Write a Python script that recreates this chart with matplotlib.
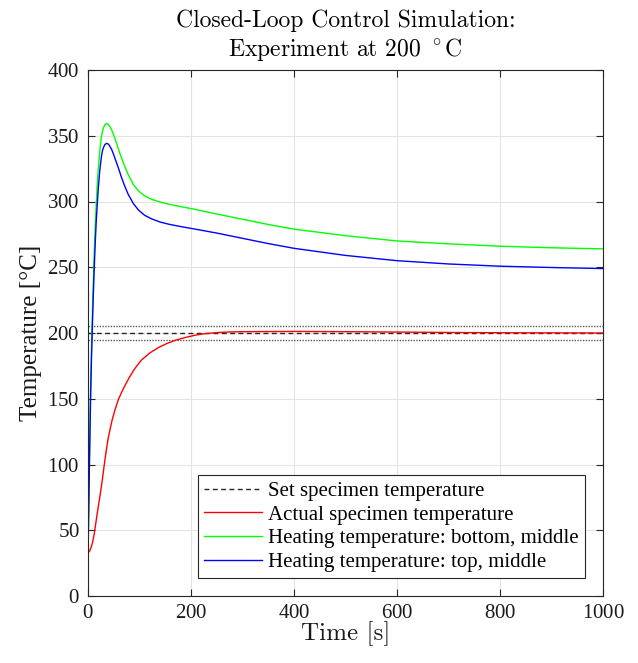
import matplotlib
matplotlib.use("Agg")
import matplotlib.pyplot as plt

plt.rcParams["mathtext.fontset"] = "cm"
plt.rcParams["axes.formatter.use_mathtext"] = True

# Time samples [s] and temperatures [°C]
t_heat = [0, 1, 2, 3, 4, 5, 6, 7, 8, 10, 12, 14, 16, 18, 20, 23, 26, 28, 30,
          33, 36, 39, 42, 46, 50, 54, 59, 64, 70, 78, 88, 98, 110, 124, 140,
          156, 179, 208, 250, 300, 350, 400, 500, 600, 700, 800, 900, 1000]
heat_bottom = [33, 57, 84, 110, 134, 156, 175, 192, 207, 235, 260, 281, 298,
               313, 325, 339, 349, 353, 356, 358.5, 359.3, 358.8, 357.3,
               354.5, 350.5, 346, 340, 334.2, 328, 320.5, 313, 308, 304.3,
               301.6, 299.6, 298, 296.2, 294, 290.5, 286.5, 282.5, 279, 274,
               270, 267.8, 266, 264.8, 264]
heat_top = [33, 55, 80, 105, 128, 150, 168, 184, 198, 225, 248, 268, 285,
            298, 310, 324, 334, 338.5, 341, 343.4, 344.2, 343.8, 342.3,
            339.5, 335.5, 331, 325.5, 319.5, 313, 305.5, 298.5, 293.5, 289.5,
            286.7, 284.4, 282.8, 281, 279, 276, 272, 268, 264.4, 259, 255,
            252.5, 250.8, 249.8, 249]

t_spec = [0, 3, 6, 9, 12, 15, 18, 21, 24, 27, 30, 33, 36, 39, 43, 47, 52, 59,
          66, 73, 80, 90, 104, 120, 137, 153, 170, 188, 208, 225, 250, 275,
          300, 400, 500, 600, 700, 800, 900, 1000]
specimen = [33, 34, 37, 41, 47, 55, 63, 70.5, 78, 86, 95, 104, 112, 119.5,
            127, 134, 141, 149.5, 155.5, 161, 166, 172.5, 179.5, 184.8, 189,
            192, 194.5, 196.5, 198.3, 199.4, 200.3, 200.8, 201, 201.2, 201,
            200.7, 200.4, 200.2, 200.1, 200]

t_span = [0, 1000]
set_temp = [200, 200]
upper_band = [205, 205]
lower_band = [195, 195]

serif = ["Liberation Serif", "DejaVu Serif"]
axis_col = "#262626"

fig = plt.figure(figsize=(6.38, 6.63), dpi=100)
ax = fig.add_axes([88 / 638, 1 - 596 / 663, 515 / 638, 526 / 663])

ax.plot(t_span, upper_band, linestyle=(0, (1, 1)), color="0.35", lw=1.0)
ax.plot(t_span, lower_band, linestyle=(0, (1, 1)), color="0.35", lw=1.0)
ax.plot(t_span, set_temp, linestyle=(0, (3.5, 2.5)), color="0.15", lw=1.0,
        label="Set specimen temperature")
ax.plot(t_spec, specimen, color=(1, 0, 0), lw=1.0,
        label="Actual specimen temperature")
ax.plot(t_heat, heat_bottom, color=(0, 1, 0), lw=1.0,
        label="Heating temperature: bottom, middle")
ax.plot(t_heat, heat_top, color=(0, 0, 1), lw=1.0,
        label="Heating temperature: top, middle")

ax.set_xlim(0, 1000)
ax.set_ylim(0, 400)
ax.set_xticks(range(0, 1001, 200))
ax.set_yticks(range(0, 401, 50))
ax.grid(True, color="#e3e3e3", lw=0.8)
ax.set_axisbelow(True)

for s in ax.spines.values():
    s.set_color(axis_col)
    s.set_linewidth(0.8)
ax.tick_params(direction="in", length=5, width=0.8, color=axis_col,
               top=True, right=True, labelsize=15, pad=6,
               labelcolor="#1a1a1a")
for lab in ax.get_xticklabels() + ax.get_yticklabels():
    lab.set_fontfamily(serif)

ax.set_xlabel("Time [s]", fontfamily="cmr10", fontsize=18, labelpad=-1.5,
              color="#1a1a1a")
ax.set_ylabel("Temperature [°C]", fontfamily=serif, fontsize=18,
              labelpad=4, color="#1a1a1a")
ax.set_title("Closed-Loop Control Simulation:\n" + r"Experiment at 200 $^\circ$C",
             fontfamily="cmr10", fontsize=17, pad=10, linespacing=1.2)

leg = ax.legend(loc="lower right", prop={"family": serif, "size": 15},
                fancybox=False, framealpha=1, edgecolor=axis_col,
                handlelength=2.8, handletextpad=0.3, labelspacing=0.2,
                borderpad=0.3, borderaxespad=0.85)
leg.get_frame().set_linewidth(0.8)

fig.savefig("out.png", dpi=100)
